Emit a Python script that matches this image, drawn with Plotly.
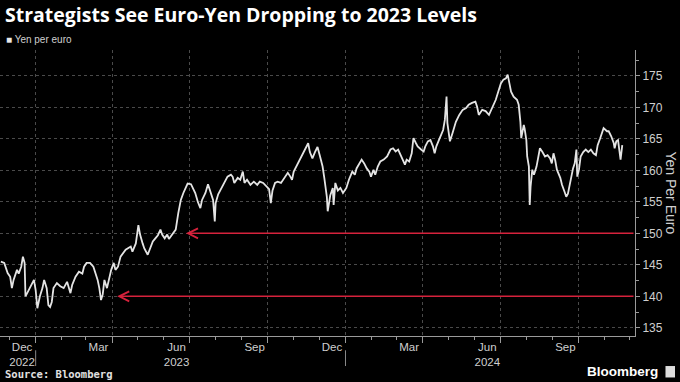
import plotly.graph_objects as go

# ---- data ----
dates = [
    "2022-11-21", "2022-11-25", "2022-11-29", "2022-12-02", "2022-12-04", "2022-12-06", "2022-12-10",
    "2022-12-12", "2022-12-15", "2022-12-17", "2022-12-19", "2022-12-20", "2022-12-22", "2022-12-26",
    "2022-12-30", "2023-01-01", "2023-01-03", "2023-01-06", "2023-01-09", "2023-01-11", "2023-01-14",
    "2023-01-16", "2023-01-18", "2023-01-20", "2023-01-22", "2023-01-26", "2023-01-30", "2023-02-03",
    "2023-02-07", "2023-02-11", "2023-02-13", "2023-02-17", "2023-02-21", "2023-02-25", "2023-02-27",
    "2023-03-02", "2023-03-06", "2023-03-10", "2023-03-13", "2023-03-15", "2023-03-17", "2023-03-19",
    "2023-03-21", "2023-03-23", "2023-03-26", "2023-03-28", "2023-03-31", "2023-04-03", "2023-04-05",
    "2023-04-08", "2023-04-11", "2023-04-17", "2023-04-23", "2023-04-25", "2023-04-29", "2023-05-02",
    "2023-05-04", "2023-05-07", "2023-05-09", "2023-05-13", "2023-05-16", "2023-05-19", "2023-05-22",
    "2023-05-25", "2023-05-28", "2023-05-30", "2023-06-02", "2023-06-05", "2023-06-07", "2023-06-11",
    "2023-06-15", "2023-06-18", "2023-06-21", "2023-06-24", "2023-06-27", "2023-06-29", "2023-07-03",
    "2023-07-06", "2023-07-08", "2023-07-11", "2023-07-14", "2023-07-16", "2023-07-20", "2023-07-23",
    "2023-07-26", "2023-07-29", "2023-07-31", "2023-08-01", "2023-08-04", "2023-08-07", "2023-08-11",
    "2023-08-15", "2023-08-19", "2023-08-21", "2023-08-23", "2023-08-27", "2023-08-30", "2023-09-02",
    "2023-09-04", "2023-09-07", "2023-09-11", "2023-09-15", "2023-09-19", "2023-09-22", "2023-09-26",
    "2023-09-30", "2023-10-03", "2023-10-05", "2023-10-07", "2023-10-10", "2023-10-13", "2023-10-17",
    "2023-10-21", "2023-10-25", "2023-10-28", "2023-10-30", "2023-11-01", "2023-11-04", "2023-11-08",
    "2023-11-12", "2023-11-15", "2023-11-18", "2023-11-20", "2023-11-23", "2023-11-26", "2023-11-29",
    "2023-12-02", "2023-12-05", "2023-12-07", "2023-12-10", "2023-12-11", "2023-12-14", "2023-12-17",
    "2023-12-18", "2023-12-20", "2023-12-23", "2023-12-26", "2023-12-29", "2024-01-02", "2024-01-05",
    "2024-01-09", "2024-01-12", "2024-01-14", "2024-01-17", "2024-01-20", "2024-01-23", "2024-01-26",
    "2024-01-29", "2024-01-31", "2024-02-03", "2024-02-05", "2024-02-08", "2024-02-11", "2024-02-15",
    "2024-02-19", "2024-02-23", "2024-02-26", "2024-02-29", "2024-03-03", "2024-03-05", "2024-03-08",
    "2024-03-11", "2024-03-13", "2024-03-16", "2024-03-19", "2024-03-21", "2024-03-24", "2024-03-26",
    "2024-03-30", "2024-04-02", "2024-04-04", "2024-04-07", "2024-04-10", "2024-04-13", "2024-04-15",
    "2024-04-17", "2024-04-20", "2024-04-25", "2024-04-27", "2024-04-29", "2024-04-30", "2024-05-03",
    "2024-05-06", "2024-05-10", "2024-05-14", "2024-05-18", "2024-05-22", "2024-05-25", "2024-05-29",
    "2024-06-02", "2024-06-04", "2024-06-06", "2024-06-10", "2024-06-14", "2024-06-18", "2024-06-20",
    "2024-06-23", "2024-06-26", "2024-06-29", "2024-07-02", "2024-07-05", "2024-07-08", "2024-07-10",
    "2024-07-12", "2024-07-14", "2024-07-17", "2024-07-21", "2024-07-23", "2024-07-25", "2024-07-26",
    "2024-07-29", "2024-07-30", "2024-08-01", "2024-08-02", "2024-08-04", "2024-08-05", "2024-08-06",
    "2024-08-08", "2024-08-10", "2024-08-13", "2024-08-17", "2024-08-20", "2024-08-23", "2024-08-26",
    "2024-08-29", "2024-08-31", "2024-09-02", "2024-09-04", "2024-09-06", "2024-09-10", "2024-09-12",
    "2024-09-15", "2024-09-17", "2024-09-19", "2024-09-21", "2024-09-23", "2024-09-25", "2024-09-27",
    "2024-09-29", "2024-09-30", "2024-10-02", "2024-10-04", "2024-10-07", "2024-10-10", "2024-10-13",
    "2024-10-16", "2024-10-19", "2024-10-22", "2024-10-24", "2024-10-27", "2024-10-30", "2024-10-31",
    "2024-11-04", "2024-11-06", "2024-11-09", "2024-11-12", "2024-11-13", "2024-11-15", "2024-11-17",
    "2024-11-19", "2024-11-20", "2024-11-22",
]
yen_per_euro = [
    145.5, 145.3, 143.7, 143.1, 141.3, 142.6, 144.2,
    143.6, 144.7, 146.3, 145.3, 140.0, 140.5, 141.6,
    142.6, 141.0, 138.1, 140.0, 141.3, 142.6, 141.3,
    138.6, 138.3, 139.1, 141.3, 142.1, 141.6, 141.3,
    142.3, 140.5, 141.8, 143.1, 143.9, 143.6, 144.7,
    145.3, 145.3, 144.7, 143.6, 142.6, 141.3, 139.4,
    140.3, 142.6, 141.3, 142.6, 144.2, 145.3, 144.2,
    144.7, 146.3, 147.4, 147.9, 147.1, 148.4, 151.3,
    149.8, 148.4, 147.6, 146.6, 147.6, 148.7, 149.2,
    149.7, 150.6, 149.8, 149.2, 149.8, 149.1, 149.8,
    150.6, 153.2, 155.3, 156.4, 157.4, 157.9, 157.8,
    156.9, 156.4, 155.0, 154.0, 155.3, 156.4, 157.8,
    156.4, 155.3, 151.9, 154.8, 156.2, 156.9, 158.0,
    159.0, 159.3, 159.0, 158.0, 158.8, 158.5, 159.8,
    158.0, 158.5, 157.7, 158.2, 157.7, 158.2, 158.0,
    157.4, 157.0, 154.8, 156.8, 158.0, 158.2, 158.0,
    158.8, 159.6, 159.0, 158.5, 159.8, 160.6, 161.4,
    162.5, 163.5, 164.3, 162.9, 161.9, 162.9, 163.7,
    162.2, 160.6, 158.8, 155.8, 153.5, 156.0, 157.2,
    154.5, 158.0, 156.8, 157.2, 156.4, 157.2, 158.5,
    159.8, 159.3, 160.3, 161.1, 161.7, 161.1, 160.3,
    159.8, 159.0, 160.1, 159.3, 160.6, 161.4, 161.7,
    162.2, 163.3, 163.5, 163.0, 163.3, 162.7, 161.7,
    160.9, 161.7, 161.4, 162.7, 165.1, 164.3, 163.8,
    163.3, 163.0, 163.8, 164.6, 164.8, 163.8, 162.7,
    163.8, 164.8, 166.4, 168.0, 171.7, 167.5, 164.6,
    165.9, 167.7, 168.8, 169.6, 169.9, 170.4, 170.7,
    170.9, 170.1, 168.8, 169.6, 169.4, 168.8, 169.4,
    170.1, 171.2, 172.5, 173.8, 174.4, 174.6, 175.2,
    173.6, 172.5, 171.7, 171.2, 170.4, 167.7, 165.1,
    167.2, 166.6, 164.8, 162.2, 160.6, 154.5, 157.4,
    160.1, 159.3, 160.6, 163.5, 162.9, 162.2, 162.4,
    161.9, 161.1, 162.7, 161.6, 160.1, 158.8, 157.7,
    156.6, 155.8, 156.3, 157.7, 159.3, 160.3, 161.1,
    163.3, 159.0, 160.1, 162.2, 162.9, 163.3, 162.9,
    163.3, 162.7, 162.4, 164.0, 165.1, 166.2, 166.7,
    166.2, 166.2, 165.4, 164.3, 163.5, 164.6, 164.8,
    162.9, 161.7, 164.0,
]

# target levels marked with arrows (level, date where the arrow points)
target_levels = [150, 140]
target_arrow_dates = ["2023-06-27", "2023-04-07"]

# x tick labels (centred in their month)
tick_dates = ["2022-12-16", "2023-03-16", "2023-06-16", "2023-09-16",
              "2023-12-16", "2024-03-16", "2024-06-16", "2024-09-16"]
tick_text = ["Dec<br>2022", "Mar", "Jun<br>2023", "Sep",
             "Dec", "Mar", "Jun<br>2024", "Sep"]
quarter_starts = ["2023-01-01", "2023-04-01", "2023-07-01", "2023-10-01",
                  "2024-01-01", "2024-04-01", "2024-07-01", "2024-10-01"]
year_starts = ["2023-01-01", "2024-01-01"]
x_range = ["2022-11-20", "2024-12-07"]
y_range = [133.7, 179.1]

GRID = "#4a4a4a"
AXIS = "#9a9a9a"
LABEL = "#cfcfcf"
RED = "#d6223c"

fig = go.Figure()
fig.add_trace(go.Scatter(
    x=dates, y=yen_per_euro, mode="lines",
    line=dict(color="#e4e4e4", width=1.8),
    name="Yen per euro", showlegend=False,
))
# invisible helper trace for monthly tick axis
fig.add_trace(go.Scatter(x=[dates[0]], y=[yen_per_euro[0]], xaxis="x2",
                         mode="markers", marker=dict(opacity=0),
                         showlegend=False, hoverinfo="skip"))

fig.update_layout(
    width=680, height=382,
    paper_bgcolor="black", plot_bgcolor="black",
    margin=dict(l=0, r=45, t=50, b=46),
    font=dict(family="Liberation Sans, Arial, sans-serif", color=LABEL),
    xaxis=dict(
        range=x_range, type="date",
        tickmode="array", tickvals=tick_dates, ticktext=tick_text,
        ticks="", showgrid=False, zeroline=False,
        showline=True, linecolor=AXIS, linewidth=1,
        tickfont=dict(size=11.5, color=LABEL),
        minor=dict(tickmode="array", tickvals=quarter_starts, ticks="outside",
                   ticklen=6, tickcolor=AXIS, tickwidth=1,
                   showgrid=True, gridcolor=GRID, griddash="dot", gridwidth=1),
    ),
    xaxis2=dict(
        range=x_range, type="date", overlaying="x", side="bottom",
        anchor="y", tickmode="linear", tick0="2022-12-01", dtick="M1",
        ticks="outside", ticklen=3, tickcolor=AXIS, showticklabels=False,
        showgrid=False, zeroline=False, showline=False,
    ),
    yaxis=dict(
        range=y_range, side="right", tickmode="linear", tick0=135, dtick=5,
        ticks="outside", ticklen=4, tickcolor=AXIS,
        showline=True, linecolor=AXIS, linewidth=1,
        showgrid=True, gridcolor=GRID, griddash="dot", zeroline=False,
        tickfont=dict(size=12, color=LABEL),
        minor=dict(tickmode="linear", tick0=132.5, dtick=5, ticks="outside",
                   ticklen=3, tickcolor=AXIS, showgrid=False),
    ),
)

# arrows toward the target levels
for lvl, d in zip(target_levels, target_arrow_dates):
    fig.add_annotation(
        x=d, y=lvl, xref="x", yref="y",
        ax=x_range[1], ay=lvl, axref="x", ayref="y",
        showarrow=True, arrowhead=5, arrowsize=1.3, arrowwidth=1.5,
        arrowcolor=RED, text="",
    )

# year separators under the axis
for ys in year_starts:
    fig.add_shape(type="line", xref="x", yref="paper", x0=ys, x1=ys,
                  y0=-0.05, y1=-0.105, line=dict(color="#888888", width=1))

# title, legend, axis title, source, logo
fig.add_annotation(text="<b>Strategists See Euro-Yen Dropping to 2023 Levels</b>",
                   xref="paper", yref="paper", x=0.004, y=1.124,
                   xanchor="left", yanchor="middle", showarrow=False,
                   font=dict(size=19.5, color="white",
                             family="Open Sans, Liberation Sans, sans-serif"))
fig.add_annotation(text="<span style='color:#e8e8e8'>■</span> Yen per euro",
                   xref="paper", yref="paper", x=0.006, y=1.035,
                   xanchor="left", yanchor="middle", showarrow=False,
                   font=dict(size=10, color=LABEL))
fig.add_annotation(text="Yen Per Euro", textangle=90,
                   xref="paper", yref="paper", x=1.056, y=0.5,
                   xanchor="center", yanchor="middle", showarrow=False,
                   font=dict(size=14, color=LABEL))
fig.add_annotation(text="<b>Source: Bloomberg</b>",
                   xref="paper", yref="paper", x=0.004, y=-0.132,
                   xanchor="left", yanchor="middle", showarrow=False,
                   font=dict(size=10.5, color="#e0e0e0",
                             family="DejaVu Sans Mono, monospace"))
fig.add_annotation(text="<b>Bloomberg</b>",
                   xref="paper", yref="paper", x=1.039, y=-0.123,
                   xanchor="right", yanchor="middle", showarrow=False,
                   font=dict(size=13.5, color="white",
                             family="Liberation Sans, Arial, sans-serif"))
fig.add_shape(type="rect", xref="paper", yref="paper",
              x0=1.048, x1=1.063, y0=-0.145, y1=-0.105,
              fillcolor="#dddddd", line=dict(width=0))

fig.write_html("out.html", config={"displayModeBar": False},
               post_script="document.body.style.margin='0';document.body.style.overflow='hidden';")
